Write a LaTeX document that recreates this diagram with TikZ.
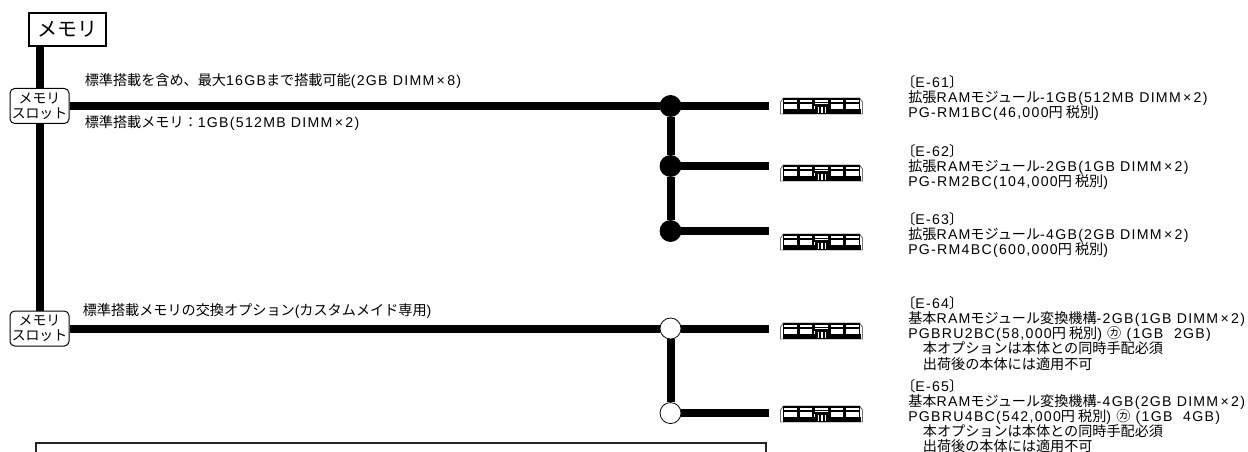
\documentclass[tikz,border=0pt]{standalone}
\usepackage{fontspec}
\setmainfont[LetterSpace=9]{Liberation Sans}
\newfontfamily\jpfont{Noto Sans CJK JP}
\newcommand{\jp}[1]{{\jpfont #1}}
\newcommand{\tms}{\,×\,}
\usetikzlibrary{positioning}

\tikzset{
	memtitle/.style={draw, line width=0.8pt, fill=white, minimum width=57.75pt, minimum height=24.75pt, inner sep=0pt, font=\fontsize{15}{15}\selectfont},
	memslot/.style={draw, line width=0.75pt, fill=white, rounded corners=3.5pt, minimum width=44.25pt, minimum height=26.25pt, inner sep=0pt, align=center, font=\fontsize{10.4}{11.25}\selectfont},
	bus/.style={line width=6pt},
	joint/.style={circle, draw, line width=0.6pt, fill=black, minimum size=15.75pt, inner sep=0pt, on grid},
	altjoint/.style={joint, fill=white},
	busend/.style={coordinate, on grid},
	caption/.style={inner sep=0pt, align=left, font=\fontsize{10.6}{11.3}\selectfont},
	notebox/.style={line width=1.5pt, black!85},
	ramstick/.style={minimum width=62.25pt, minimum height=12.75pt, inner sep=0pt, on grid, path picture={
		\begin{scope}[shift={(path picture bounding box.center)}]
			\draw[black!55, line width=0.7pt] (-41,8) -- (-41,-4) -- (-38,-8) -- (38,-8) -- (41,-4) -- (41,8) -- cycle;
			\foreach \cx in {-31,-15.5,15.5,31}
				\draw[line width=0.8pt] (\cx-7,-7) rectangle (\cx+7,4) (\cx-7,-3) -- (\cx+7,-3);
			\draw[line width=0.8pt] (-7,-7) rectangle (7,-1) (-7,-3.5) -- (7,-3.5);
			\fill (-39,3) rectangle (39,8);
			\fill (-7,-1) rectangle (7,4);
			\draw[white, line width=0.8pt] (-3,1) -- (-3,7) (0.5,1) -- (0.5,7) (4,1) -- (4,7);
		\end{scope}
	}},
}

\begin{document}
\begin{tikzpicture}[x=0.75pt, y=-0.75pt]
		  \useasboundingbox (0,0) rectangle (1248,452) ; %

		  \node[memslot] (slotA) at (39.5,106) {\jp{メモリ}\\\jp{スロット}} ; %
		  \node[memslot, on grid, below=166.9pt of slotA] (slotB) {\jp{メモリ}\\\jp{スロット}} ; %
		  \node[memtitle] (memory) at (67.5,29.5) {\jp{メモリ}} ; %

		  \node[joint, right=473.25pt of slotA] (jointA) {} ; %
		  \node[joint, below=45pt of jointA] (jointB) {} ; %
		  \node[joint, below=48.75pt of jointB] (jointC) {} ; %
		  \node[altjoint, right=473.25pt of slotB] (jointD) {} ; %
		  \node[altjoint, below=63.4pt of jointD] (jointE) {} ; %

		  \node[busend, right=73.9pt of jointA] (endA) {} ; %
		  \node[busend, right=73.9pt of jointB] (endB) {} ; %
		  \node[busend, right=73.9pt of jointC] (endC) {} ; %
		  \node[busend, right=73.9pt of jointD] (endD) {} ; %
		  \node[busend, right=73.9pt of jointE] (endE) {} ; %

		  \node[ramstick, right=113.25pt of jointA] (ramA) {} ; %
		  \node[ramstick, below=50.25pt of ramA] (ramB) {} ; %
		  \node[ramstick, below=51.75pt of ramB] (ramC) {} ; %
		  \node[ramstick, below=66.75pt of ramC] (ramD) {} ; %
		  \node[ramstick, below=62.25pt of ramD] (ramE) {} ; %

		  \node[caption, right=11.25pt of slotA, yshift=18.75pt] (noteA) {\jp{標準搭載を含め、最大}16GB\jp{まで搭載可能}(2GB DIMM\tms 8)} ; %
		  \node[caption, right=11.25pt of slotA, yshift=-12.75pt] (noteB) {\jp{標準搭載メモリ：}1GB(512MB DIMM\tms 2)} ; %
		  \node[caption, right=9.75pt of slotB, yshift=13.5pt] (noteC) {\jp{標準搭載メモリの交換オプション}(\jp{カスタムメイド専用})} ; %

		  \node[caption, anchor=north west] (descA) at (908,75) {\hspace*{-5.25pt}\jp{〔}E-61\jp{〕}\\\jp{拡張}RAM\jp{モジュール}-1GB(512MB DIMM\tms 2)\\PG-RM1BC(46,000\jp{円 税別})} ; %
		  \node[caption, below=17.2pt of descA.south west, anchor=north west] (descB) {\hspace*{-5.25pt}\jp{〔}E-62\jp{〕}\\\jp{拡張}RAM\jp{モジュール}-2GB(1GB DIMM\tms 2)\\PG-RM2BC(104,000\jp{円 税別})} ; %
		  \node[caption, below=17.2pt of descB.south west, anchor=north west] (descC) {\hspace*{-5.25pt}\jp{〔}E-63\jp{〕}\\\jp{拡張}RAM\jp{モジュール}-4GB(2GB DIMM\tms 2)\\PG-RM4BC(600,000\jp{円 税別})} ; %
		  \node[caption, below=28.75pt of descC.south west, anchor=north west] (descD) {\hspace*{-5.25pt}\jp{〔}E-64\jp{〕}\\\jp{基本}RAM\jp{モジュール変換機構}-2GB(1GB DIMM\tms 2)\\PGBRU2BC(58,000\jp{円 税別}) \jp{㋕} (1GB\hspace{8pt}2GB)\\\hspace*{11pt}\jp{本オプションは本体との同時手配必須}\\\hspace*{11pt}\jp{出荷後の本体には適用不可}} ; %
		  \node[caption, below=6.5pt of descD.south west, anchor=north west] (descE) {\hspace*{-5.25pt}\jp{〔}E-65\jp{〕}\\\jp{基本}RAM\jp{モジュール変換機構}-4GB(2GB DIMM\tms 2)\\PGBRU4BC(542,000\jp{円 税別}) \jp{㋕} (1GB\hspace{8pt}4GB)\\\hspace*{11pt}\jp{本オプションは本体との同時手配必須}\\\hspace*{11pt}\jp{出荷後の本体には適用不可}} ; %

		  \draw[bus] (memory.south -| slotA) -- (slotA) ; %
		  \draw[bus] (slotA) -- (slotB) ; %
		  \draw[bus] (slotA) -- (jointA) ; %
		  \draw[bus] (slotB) -- (jointD) ; %
		  \draw[bus] (jointA) -- (jointB) ; %
		  \draw[bus] (jointB) -- (jointC) ; %
		  \draw[bus] (jointD) -- (jointE) ; %
		  \foreach \n in {A,B,C,D,E}
		    \draw[bus] (joint\n) -- (end\n) ; %

		  \draw[notebox] (36,452) |- (766,443) -- (766,452) ; %
\end{tikzpicture}
\end{document}
